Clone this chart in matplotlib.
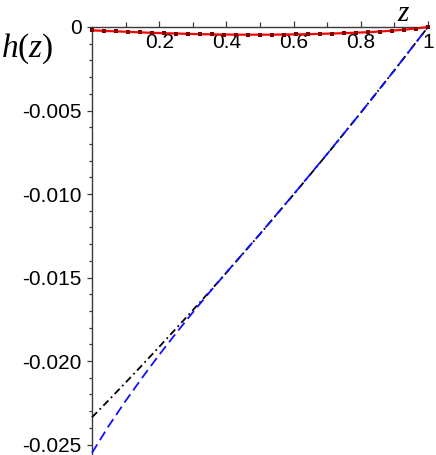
import matplotlib
matplotlib.use("Agg")
import matplotlib.pyplot as plt
from matplotlib.ticker import FixedLocator, FixedFormatter

plt.rcParams['font.family'] = ['Liberation Sans', 'DejaVu Sans']
plt.rcParams['mathtext.fontset'] = 'custom'
plt.rcParams['mathtext.rm'] = 'Liberation Serif'
plt.rcParams['mathtext.it'] = 'Liberation Serif:italic'

# --- data ---
z_curve = [0, 0.05, 0.1, 0.15, 0.2, 0.25, 0.3, 0.35, 0.4, 0.5, 0.6, 0.7, 0.8, 0.9, 1.0]
h_dashdot = [-0.02337, -0.02234, -0.02129, -0.02023, -0.01915, -0.01806, -0.01696,
             -0.01584, -0.01471, -0.01240, -0.01003, -0.00761, -0.00513, -0.00259, 0.0]
h_dashed = [-0.02550, -0.02388, -0.02239, -0.02098, -0.01963, -0.01834, -0.01709,
            -0.01588, -0.01470, -0.01239, -0.01002, -0.00760, -0.00513, -0.00259, 0.0]

z_points = [k / 28 for k in range(29)]
h_points = [-0.00020, -0.00023, -0.00026, -0.00029, -0.00032, -0.00035, -0.00037,
            -0.00039, -0.00041, -0.00043, -0.00044, -0.00045, -0.00046, -0.00046,
            -0.00046, -0.00046, -0.00045, -0.00044, -0.00043, -0.00041, -0.00039,
            -0.00037, -0.00034, -0.00031, -0.00027, -0.00022, -0.00016, -0.00009, 0.0]

x_major = [0.2, 0.4, 0.6, 0.8, 1.0]
x_labels = ['0.2', '0.4', '0.6', '0.8', '1']
x_minor = [0.1, 0.3, 0.5, 0.7, 0.9]
y_major = [0, -0.005, -0.010, -0.015, -0.020, -0.025]
y_labels = ['0', '-0.005', '-0.010', '-0.015', '-0.020', '-0.025']
y_minor = [-0.001 * k for k in range(1, 26) if k % 5 != 0]

fig = plt.figure(figsize=(4.36, 4.55), dpi=100)
ax = fig.add_axes([92 / 436, 1 - 453.7 / 455, 336 / 436, (453.7 - 27) / 455])
ax.set_xlim(0, 1.0)
ax.set_ylim(-0.02555, 0)

axc = '#3a3a3a'
ax.spines['right'].set_visible(False)
ax.spines['top'].set_visible(False)
ax.spines['bottom'].set_position(('data', 0))
ax.spines['bottom'].set_color(axc)
ax.spines['left'].set_color(axc)
ax.spines['bottom'].set_linewidth(1.0)
ax.spines['left'].set_linewidth(1.0)
ax.spines['bottom'].set_zorder(1)

ax.xaxis.set_major_locator(FixedLocator(x_major))
ax.xaxis.set_major_formatter(FixedFormatter(x_labels))
ax.xaxis.set_minor_locator(FixedLocator(x_minor))
ax.yaxis.set_major_locator(FixedLocator(y_major))
ax.yaxis.set_major_formatter(FixedFormatter(y_labels))
ax.yaxis.set_minor_locator(FixedLocator(y_minor))

ax.tick_params(axis='x', which='both', direction='in', color=axc, width=0.9,
               labelsize=15, pad=4)
ax.tick_params(axis='x', which='major', length=4)
ax.tick_params(axis='x', which='minor', length=3.5)
ax.tick_params(axis='y', which='both', direction='out', color=axc, width=0.9,
               labelsize=15, pad=4)
ax.tick_params(axis='y', which='major', length=3.5)
ax.tick_params(axis='y', which='minor', length=2)

ax.plot(z_curve, h_dashdot, color='black', lw=1.3, ls=(0, (4, 2, 1, 2)),
        clip_on=False, zorder=3)
ax.plot(z_curve, h_dashed, color='#1010ff', lw=1.3, ls=(0, (5.5, 2.8)),
        clip_on=False, zorder=3)
ax.plot(z_points, h_points, color='#ff0000', lw=1.6, clip_on=False, zorder=4)
ax.plot(z_points, h_points, ls='none', marker='s', ms=2.3, mew=0, color='#7a0000',
        clip_on=False, zorder=5)

fig.text(1 / 436, 1 - 49 / 455, r'$h(z)$', fontsize=24, ha='left', va='center')
fig.text(404 / 436, 1 - 13 / 455, r'$z$', fontsize=21, ha='center', va='center')

fig.savefig('out.png', dpi=100)
